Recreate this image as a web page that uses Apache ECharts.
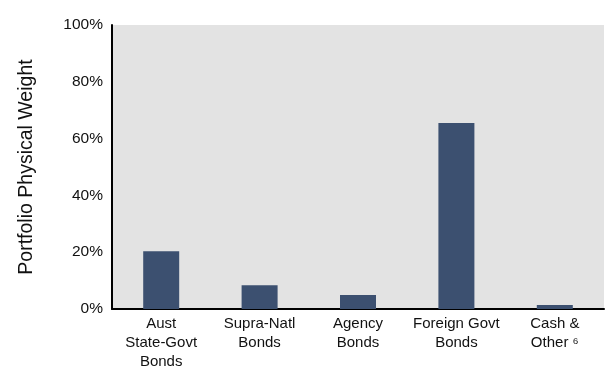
<!DOCTYPE html>
<html>
<head>
<meta charset="utf-8">
<script src="https://cdn.jsdelivr.net/npm/echarts@6/dist/echarts.min.js"></script>
<style>html,body{margin:0;padding:0;background:#fff}#c{width:605px;height:367px}</style>
</head>
<body>
<div id="c"></div>
<script>
const categories = ['Aust\nState-Govt\nBonds', 'Supra-Natl\nBonds', 'Agency\nBonds', 'Foreign Govt\nBonds', 'Cash &\nOther \u2076'];
const weights = [20.3, 8.4, 4.9, 65.5, 1.4];
const yTicks = [0, 20, 40, 60, 80, 100];

const chart = echarts.init(document.getElementById('c'), null, {renderer: 'canvas'});
chart.setOption({
  animation: false,
  backgroundColor: '#ffffff',
  textStyle: {fontFamily: 'Liberation Sans, Arial, sans-serif'},
  grid: {left: 112, right: 1, top: 25, bottom: 58, show: true, backgroundColor: '#e3e3e3', borderWidth: 0,
         containLabel: false, outerBoundsMode: 'none'},
  xAxis: {
    type: 'category',
    data: categories,
    axisLine: {show: true, lineStyle: {color: '#000', width: 2}},
    axisTick: {show: false},
    axisLabel: {color: '#111', fontSize: 15, lineHeight: 19, margin: 5, interval: 0, fontFamily: 'Liberation Sans'}
  },
  yAxis: {
    type: 'value',
    min: yTicks[0],
    max: yTicks[yTicks.length - 1],
    interval: 20,
    name: 'Portfolio Physical Weight',
    nameLocation: 'middle',
    nameGap: 75,
    nameTextStyle: {color: '#111', fontSize: 19.5, fontFamily: 'Liberation Sans'},
    axisLine: {show: true, lineStyle: {color: '#000', width: 2}},
    axisTick: {show: false},
    splitLine: {show: false},
    axisLabel: {color: '#111', fontSize: 15.5, margin: 9, formatter: v => v + '%', fontFamily: 'Liberation Sans'}
  },
  series: [{
    type: 'bar',
    data: weights,
    barWidth: 36,
    itemStyle: {color: '#3c5070'}
  }]
});
</script>
</body>
</html>
